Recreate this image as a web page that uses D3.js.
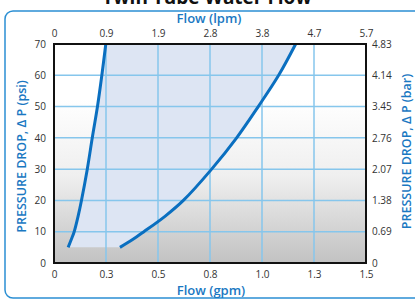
<!DOCTYPE html>
<html>
<head>
<meta charset="utf-8">
<script src="https://cdn.jsdelivr.net/npm/d3@7"></script>
<style>
  body { margin: 0; background: #fff; }
  svg { display: block; font-family: "Open Sans", sans-serif; }
</style>
</head>
<body>
<div id="chart"></div>
<script>
// Data
const psiLevels = [5, 7.5, 10, 15, 20, 30, 40, 50, 60, 70];
const lowFlowGpm = [0.068, 0.083, 0.097, 0.116, 0.132, 0.160, 0.184, 0.209, 0.230, 0.249];
const highFlowGpm = [0.317, 0.378, 0.432, 0.535, 0.622, 0.758, 0.878, 0.982, 1.080, 1.162];

const gpmTicks = [0, 0.25, 0.5, 0.75, 1.0, 1.25, 1.5];
const gpmLabels = ["0", "0.3", "0.5", "0.8", "1.0", "1.3", "1.5"];
const lpmLabels = ["0", "0.9", "1.9", "2.8", "3.8", "4.7", "5.7"];
const psiTicks = [0, 10, 20, 30, 40, 50, 60, 70];
const barLabels = ["0", "0.69", "1.38", "2.07", "2.76", "3.45", "4.14", "4.83"];

const W = 415, H = 300;
const plot = {left: 54, right: 366, top: 44, bottom: 263};

const svg = d3.select("#chart").append("svg")
  .attr("width", W)
  .attr("height", H);

const x = d3.scaleLinear().domain([0, 1.5]).range([plot.left, plot.right]);
const y = d3.scaleLinear().domain([0, 70]).range([plot.bottom, plot.top]);

// Plot background gradient
const defs = svg.append("defs");
const grad = defs.append("linearGradient")
  .attr("id", "bg-grad")
  .attr("x1", 0).attr("y1", 0).attr("x2", 0).attr("y2", 1);
grad.append("stop").attr("offset", "0%").attr("stop-color", "#ffffff");
grad.append("stop").attr("offset", "25%").attr("stop-color", "#ffffff");
grad.append("stop").attr("offset", "60%").attr("stop-color", "#efefef");
grad.append("stop").attr("offset", "100%").attr("stop-color", "#c2c2c2");

// Outer rounded frame
svg.append("rect")
  .attr("x", 5).attr("y", 11)
  .attr("width", 430).attr("height", 287)
  .attr("rx", 8)
  .attr("fill", "none")
  .attr("stroke", "#2b8fd3")
  .attr("stroke-width", 1.5);

// Title (mostly cut off at the top)
svg.append("text")
  .attr("x", 207).attr("y", 4)
  .attr("text-anchor", "middle")
  .style("font-size", "19px")
  .style("font-weight", "bold")
  .attr("fill", "#111")
  .text("Twin Tube Water Flow");

svg.append("rect")
  .attr("x", plot.left).attr("y", plot.top)
  .attr("width", plot.right - plot.left)
  .attr("height", plot.bottom - plot.top)
  .attr("fill", "url(#bg-grad)");

// Shaded operating band between the two curves
const rows = psiLevels.map((p, i) => ({psi: p, lo: lowFlowGpm[i], hi: highFlowGpm[i]}));

svg.append("path")
  .datum(rows)
  .attr("d", d3.area()
    .y(d => y(d.psi))
    .x0(d => x(d.lo))
    .x1(d => x(d.hi))
    .curve(d3.curveCatmullRom))
  .attr("fill", "#dde5f3");

// Gridlines
svg.append("g")
  .selectAll("line")
  .data(gpmTicks.slice(1, -1))
  .join("line")
    .attr("x1", d => x(d)).attr("x2", d => x(d))
    .attr("y1", plot.top).attr("y2", plot.bottom)
    .attr("stroke", "#86c6ec")
    .attr("stroke-width", 1.5);

svg.append("g")
  .selectAll("line")
  .data(psiTicks.slice(1, -1))
  .join("line")
    .attr("x1", plot.left).attr("x2", plot.right)
    .attr("y1", d => y(d)).attr("y2", d => y(d))
    .attr("stroke", "#86c6ec")
    .attr("stroke-width", 1.5);

// Curves
const lineLo = d3.line().x(d => x(d.lo)).y(d => y(d.psi)).curve(d3.curveCatmullRom);
const lineHi = d3.line().x(d => x(d.hi)).y(d => y(d.psi)).curve(d3.curveCatmullRom);

[lineLo, lineHi].forEach(gen => {
  svg.append("path")
    .datum(rows)
    .attr("d", gen)
    .attr("fill", "none")
    .attr("stroke", "#0a6fc0")
    .attr("stroke-width", 3)
    .attr("stroke-linecap", "butt");
});

// Plot border
svg.append("rect")
  .attr("x", plot.left).attr("y", plot.top)
  .attr("width", plot.right - plot.left)
  .attr("height", plot.bottom - plot.top)
  .attr("fill", "none")
  .attr("stroke", "#111")
  .attr("stroke-width", 2);

// Axes
function styleAxis(g) {
  g.select(".domain").remove();
  g.selectAll("text")
    .style("font-size", "10px")
    .style("font-family", "'Open Sans', sans-serif")
    .attr("fill", "#333");
}

svg.append("g")
  .attr("transform", `translate(0,${plot.bottom})`)
  .call(d3.axisBottom(x).tickValues(gpmTicks).tickSize(0).tickPadding(8)
    .tickFormat((d, i) => gpmLabels[i]))
  .call(styleAxis);

svg.append("g")
  .attr("transform", `translate(0,${plot.top})`)
  .call(d3.axisTop(x).tickValues(gpmTicks).tickSize(0).tickPadding(7)
    .tickFormat((d, i) => lpmLabels[i]))
  .call(styleAxis);

svg.append("g")
  .attr("transform", `translate(${plot.left},0)`)
  .call(d3.axisLeft(y).tickValues(psiTicks).tickSize(0).tickPadding(8)
    .tickFormat(d => d))
  .call(styleAxis);

svg.append("g")
  .attr("transform", `translate(${plot.right},0)`)
  .call(d3.axisRight(y).tickValues(psiTicks).tickSize(0).tickPadding(6)
    .tickFormat((d, i) => barLabels[i]))
  .call(styleAxis);

// Axis titles
const titleColor = "#1a78c2";

svg.append("text")
  .attr("x", 209).attr("y", 23)
  .attr("text-anchor", "middle")
  .style("font-size", "13px")
  .style("font-weight", 600)
  .attr("fill", titleColor)
  .text("Flow (lpm)");

svg.append("text")
  .attr("x", 211).attr("y", 295)
  .attr("text-anchor", "middle")
  .style("font-size", "13px")
  .style("font-weight", 600)
  .attr("fill", titleColor)
  .text("Flow (gpm)");

svg.append("text")
  .attr("transform", "translate(26,156.5) rotate(-90)")
  .attr("text-anchor", "middle")
  .style("font-size", "12.5px")
  .style("font-weight", 600)
  .attr("fill", titleColor)
  .text("PRESSURE DROP, \u0394 P (psi)");

svg.append("text")
  .attr("transform", "translate(411,151.5) rotate(-90)")
  .attr("text-anchor", "middle")
  .style("font-size", "12.5px")
  .style("font-weight", 600)
  .attr("fill", titleColor)
  .text("PRESSURE DROP, \u0394 P (bar)");
</script>
</body>
</html>
